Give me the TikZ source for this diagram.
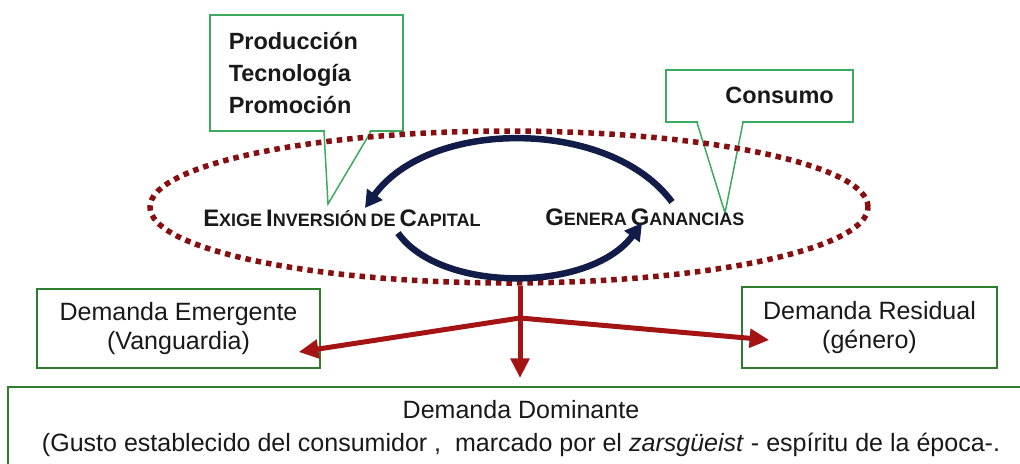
\documentclass[tikz,border=0pt]{standalone}
\usepackage{fontspec}
\setmainfont{Liberation Sans}
\usepackage{xcolor}
\usetikzlibrary{positioning,arrows.meta,shapes.geometric}
\newlength{\upx}\setlength{\upx}{0.025cm}
\definecolor{ink}{RGB}{25,25,25}
\definecolor{callgreen}{RGB}{60,170,95}
\definecolor{boxgreen}{RGB}{45,125,45}
\definecolor{dotred}{RGB}{135,15,15}
\definecolor{arrowred}{RGB}{165,20,20}
\definecolor{navy}{RGB}{18,28,72}
\newcommand{\capsc}[2]{{\fontsize{17pt}{19pt}\selectfont #1}{\fontsize{12.8pt}{15pt}\selectfont #2}}
\begin{document}
\begin{tikzpicture}[x=0.025cm,y=-0.025cm,
  callbox/.style={draw=callgreen,line width=1.5\upx,rectangle,text=ink,inner xsep=19\upx,
    font=\bfseries\fontsize{16.7pt}{22.8pt}\selectfont},
  tail/.style={draw=callgreen,line width=1.5\upx},
  demandbox/.style={draw=boxgreen,line width=1.5\upx,rectangle,align=center,text=ink,
    font=\fontsize{17.8pt}{21.3pt}\selectfont},
  dotring/.style={draw=dotred,line width=5.5\upx,dash pattern=on 5.5\upx off 5\upx,inner sep=0pt},
  cyclabel/.style={font=\bfseries,text=ink,inner sep=0pt,anchor=base west},
  loop/.style={navy,line width=6.5\upx,-{Triangle[length=12pt,width=13pt]}},
  flow/.style={arrowred,line width=5\upx,-{Triangle[length=14pt,width=13pt]}}]
  \useasboundingbox (0,0) rectangle (1020,463);
  \clip (0,0) rectangle (1020,463);
  \node[callbox,anchor=north west,text width=155\upx,minimum height=116\upx,align=left] (prod) at (209,14)
    {Producción\\Tecnología\\Promoción};
  \node[callbox,anchor=north west,text width=149\upx,minimum height=52\upx,align=right] (cons) at (665,69)
    {Consumo};
  \coordinate (tipA) at (328,204);
  \coordinate (tipB) at (725,213);
  \fill[white] ([xshift=116\upx,yshift=1.5\upx]prod.south west) -- (tipA) -- ([xshift=161\upx,yshift=1.5\upx]prod.south west) -- cycle;
  \draw[tail] ([xshift=115\upx]prod.south west) -- (tipA) -- ([xshift=162\upx]prod.south west);
  \fill[white] ([xshift=33\upx,yshift=1.5\upx]cons.south west) -- (tipB) -- ([xshift=77\upx,yshift=1.5\upx]cons.south west) -- cycle;
  \draw[tail] ([xshift=32\upx]cons.south west) -- (tipB) -- ([xshift=78\upx]cons.south west);
  \node[dotring,ellipse,minimum width=718\upx,minimum height=152\upx] (cyc) at (509,207) {};
  \node[cyclabel] (exige) at (203,226) {\capsc{E}{XIGE} \capsc{I}{NVERSIÓN} \capsc{}{DE} \capsc{C}{APITAL}};
  \node[cyclabel] (gen) at (545,225) {\capsc{G}{ENERA} \capsc{G}{ANANCIAS}};
  \coordinate (genTop) at (672,202);
  \coordinate (exTop) at (365,208);
  \coordinate (exBot) at (398,233);
  \coordinate (genBot) at (642,223);
  \draw[loop] (genTop) .. controls (610,118) and (430,118) .. (exTop);
  \draw[loop] (exBot) .. controls (440,293) and (590,293) .. (genBot);
  \node[demandbox,minimum width=283\upx,minimum height=79\upx] (emer) at (178.5,328.5)
    {Demanda Emergente\\(Vanguardia)};
  \node[demandbox,minimum width=255\upx,minimum height=81\upx] (resid) at (869.5,327.5)
    {Demanda Residual\\(género)};
  \node[demandbox,anchor=north,minimum width=1026\upx,inner ysep=14\upx,
    font=\fontsize{17.8pt}{23.5pt}\selectfont] (dom) at (521,386)
    {Demanda Dominante\\(Gusto establecido del consumidor ,\ \ marcado por el \textit{zarsgüeist} - espíritu de la época-.};
  \coordinate (fork) at (520,318);
  \draw[flow,shorten >=8\upx] (fork |- cyc.south) -- (fork |- dom.north);
  \draw[flow] (fork) -- ([xshift=-22\upx,yshift=-23.5\upx]emer.east);
  \draw[flow] (fork) -- ([xshift=28\upx,yshift=-12.5\upx]resid.west);
\end{tikzpicture}
\end{document}
